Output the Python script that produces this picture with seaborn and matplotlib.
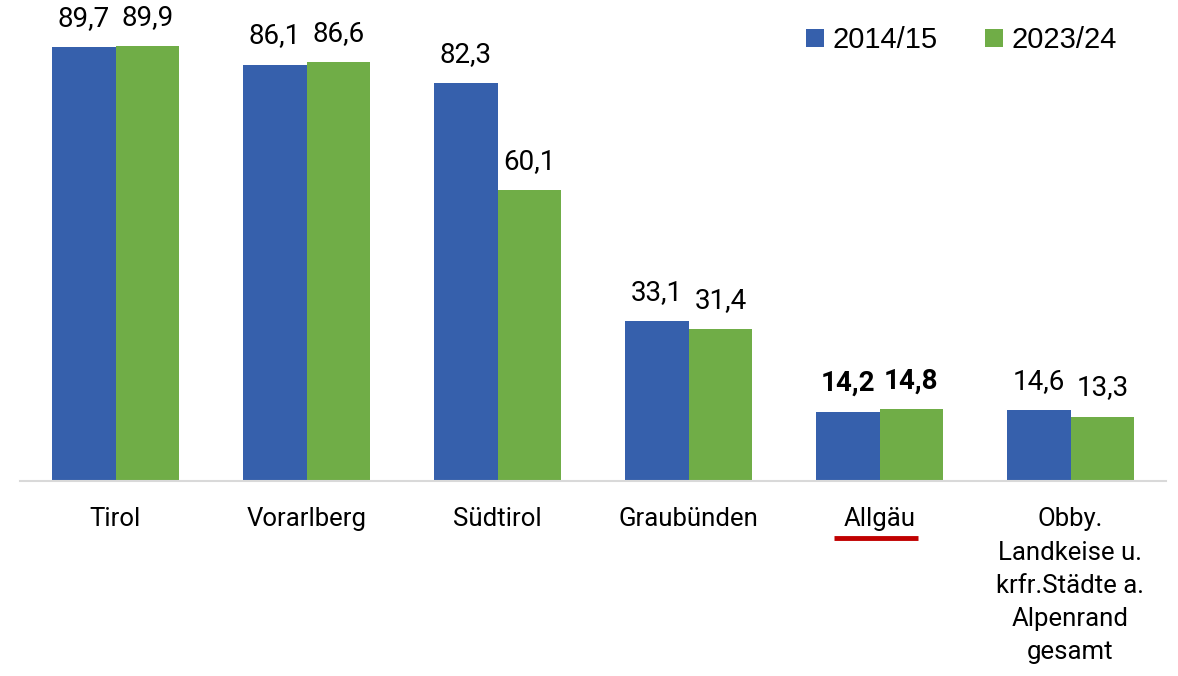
import numpy as np
import pandas as pd
import matplotlib.pyplot as plt
import matplotlib.transforms as mtransforms
import seaborn as sns

# -----------------------------
# Data
# -----------------------------
regions = ["Tirol", "Vorarlberg", "Südtirol", "Graubünden", "Allgäu",
           "Obby.\nLandkeise u.\nkrfr.Städte a.\nAlpenrand\ngesamt"]
years = ["2014/15", "2023/24"]
values_2014 = [89.7, 86.1, 82.3, 33.1, 14.2, 14.6]
values_2023 = [89.9, 86.6, 60.1, 31.4, 14.8, 13.3]
highlight = "Allgäu"

colors = ["#3660AC", "#70AD47"]

df = pd.DataFrame({
    "region": regions * 2,
    "year": [years[0]] * len(regions) + [years[1]] * len(regions),
    "value": values_2014 + values_2023,
})

# -----------------------------
# Plot
# -----------------------------
sns.set_style("white")
plt.rcParams["font.family"] = ["Roboto", "DejaVu Sans"]
plt.rcParams["text.color"] = "black"
plt.rcParams["xtick.color"] = "black"

fig = plt.figure(figsize=(11.78, 6.76), dpi=100)
ax = fig.add_axes([20 / 1178, 195 / 676, 1146 / 1178, 481 / 676])

sns.barplot(data=df, x="region", y="value", hue="year", order=regions,
            hue_order=years, palette=colors, width=0.67, gap=0,
            saturation=1, linewidth=0, ax=ax, legend=True)

ax.set_ylim(0, 99.5)
ax.set_xlim(-0.5, len(regions) - 0.5)
ax.set_xlabel("")
ax.set_ylabel("")
ax.set_yticks([])
for side in ["left", "right", "top"]:
    ax.spines[side].set_visible(False)
ax.spines["bottom"].set_color("#D9D9D9")
ax.spines["bottom"].set_linewidth(1.5)
ax.tick_params(axis="x", length=0, pad=19, labelsize=18.5, labelcolor="black")
for lbl in ax.get_xticklabels():
    lbl.set_verticalalignment("top")
    lbl.set_linespacing(1.48)

# value labels, German decimal comma
hi = regions.index(highlight)
for cont in ax.containers:
    labels = [f"{b.get_height():.1f}".replace(".", ",") for b in cont]
    texts = ax.bar_label(cont, labels=labels, padding=11, fontsize=20,
                         color="black")
    texts[hi].set_fontweight("bold")

# red underline under highlighted category
trans = mtransforms.blended_transform_factory(ax.transData, ax.transAxes)
ax.plot([hi - 0.24, hi + 0.20], [-0.119, -0.119], color="#C00000",
        lw=3.5, transform=trans, clip_on=False, solid_capstyle="butt")

leg = ax.legend(loc="upper right", bbox_to_anchor=(0.98, 1.0), ncol=2,
                frameon=False, handlelength=0.62, handleheight=0.62,
                handletextpad=0.3, columnspacing=1.6,
                prop={"family": "Liberation Sans", "size": 21})

fig.savefig("out.png", dpi=100)
